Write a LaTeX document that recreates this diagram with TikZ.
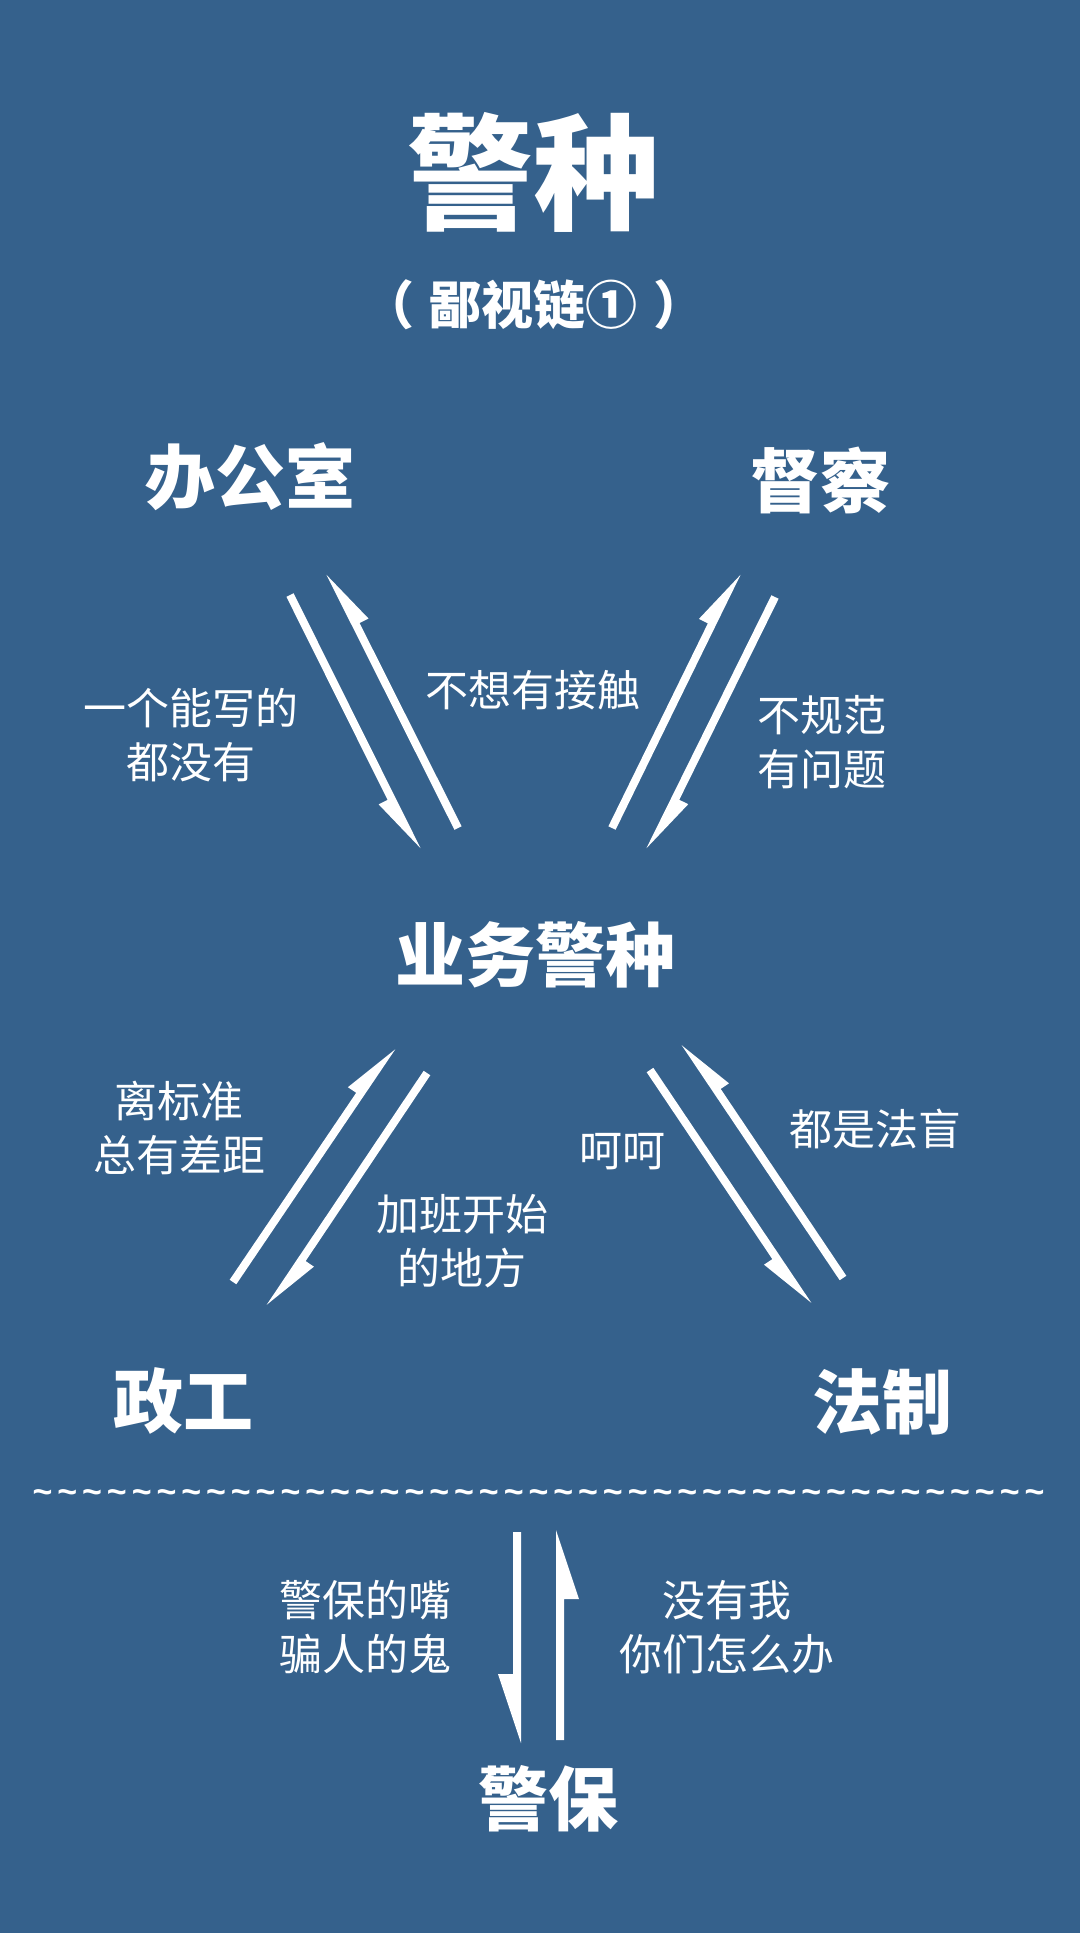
\documentclass[tikz,border=0pt]{standalone}
\usepackage{fontspec}
\usetikzlibrary{calc}
\newfontfamily\cjk{Noto Sans CJK SC}
\newfontfamily\tildefont{Liberation Sans}
\definecolor{bg}{RGB}{53,97,140}
\newcommand\onetilde{\makebox[24.8pt]{\char"7E}}
\newcommand\tentilde{\onetilde\onetilde\onetilde\onetilde\onetilde\onetilde\onetilde\onetilde\onetilde\onetilde}
% #1 start, #2 end (tip), #3 angle to barb side, #4 opposite angle, #5 head length, #6 barb reach
\newcommand\harp[6]{%
  \coordinate (hq) at ($(#2)!#5!(#1)$);
  \fill[white] ($(#1)!4pt!#4:(#2)$) -- ($(#2)!4pt!#3:(#1)$) -- ($(hq)!#6!#4:(#1)$) -- ($(hq)!4pt!#4:(#1)$) -- ($(#1)!4pt!#3:(#2)$) -- cycle;}
\begin{document}
\begin{tikzpicture}[x=1pt,y=-1pt,
  title/.style={text=white,inner sep=0pt,font=\cjk\bfseries\fontsize{126}{130}\selectfont},
  subtitle/.style={text=white,inner sep=0pt,font=\cjk\bfseries\fontsize{52}{60}\selectfont},
  head/.style={text=white,inner sep=0pt,font=\cjk\bfseries\fontsize{70}{80}\selectfont},
  lbl/.style={text=white,inner sep=0pt,align=center,font=\cjk\fontsize{43}{54}\selectfont},
  wave/.style={text=white,inner sep=0pt,anchor=base,font=\tildefont\bfseries\fontsize{34}{36}\selectfont}]
\fill[bg] (0,0) rectangle (1080,1933);
\useasboundingbox (0,0) rectangle (1080,1933);

\node[title] (t) at (533,172) {警种};
\node[subtitle] (st) at (534,305) {（\hspace{16pt}鄙视链①\hspace{16pt}）};

\node[head] (bgs) at (250,477) {办公室};
\node[head] (dc) at (820,480) {督察};
\node[head] (yw) at (535,955) {业务警种};
\node[head] (zg) at (183,1401) {政工};
\node[head] (fz) at (882,1402) {法制};
\node[head] (jb) at (548,1799) {警保};

\node[lbl] (l1) at (191,735) {一个能写的\\都没有};
\node[lbl] (l2) at (533,690) {不想有接触};
\node[lbl] (l3) at (822,742) {不规范\\有问题};
\node[lbl] (l4) at (179,1128) {离标准\\总有差距};
\node[lbl] (l5) at (622,1152) {呵呵};
\node[lbl] (l6) at (462,1241) {加班开始\\的地方};
\node[lbl] (l7) at (875,1129) {都是法盲};
\node[lbl] (l8) at (365,1627) {警保的嘴\\骗人的鬼};
\node[lbl] (l9) at (727,1627) {没有我\\你们怎么办};

\node[wave] (sep) at (538.5,1503) {\tentilde\tentilde\tentilde\tentilde\onetilde};

% arrow end points
\coordinate (a1s) at (290,595);  \coordinate (a1e) at (417,850);
\coordinate (a2s) at (458,828);  \coordinate (a2e) at (330,573);
\coordinate (a3s) at (612,828);  \coordinate (a3e) at (737,573);
\coordinate (a4s) at (775,597);  \coordinate (a4e) at (650,850);
\coordinate (a5s) at (233,1282); \coordinate (a5e) at (392,1047);
\coordinate (a6s) at (427,1073); \coordinate (a6e) at (270,1307);
\coordinate (a7s) at (650,1070); \coordinate (a7e) at (808,1305);
\coordinate (a8s) at (843,1278); \coordinate (a8e) at (685,1043);
\coordinate (a9s) at (517,1532); \coordinate (a9e) at (517,1743);
\coordinate (a10s) at (560,1740); \coordinate (a10e) at (560,1530);

\harp{a1s}{a1e}{-90}{90}{58pt}{14pt}
\harp{a2s}{a2e}{-90}{90}{58pt}{14pt}
\harp{a3s}{a3e}{90}{-90}{58pt}{14pt}
\harp{a4s}{a4e}{90}{-90}{58pt}{14pt}
\harp{a5s}{a5e}{90}{-90}{58pt}{14pt}
\harp{a6s}{a6e}{90}{-90}{58pt}{14pt}
\harp{a7s}{a7e}{-90}{90}{58pt}{14pt}
\harp{a8s}{a8e}{-90}{90}{58pt}{14pt}
\harp{a9s}{a9e}{-90}{90}{69pt}{19pt}
\harp{a10s}{a10e}{-90}{90}{69pt}{19pt}
\end{tikzpicture}
\end{document}
